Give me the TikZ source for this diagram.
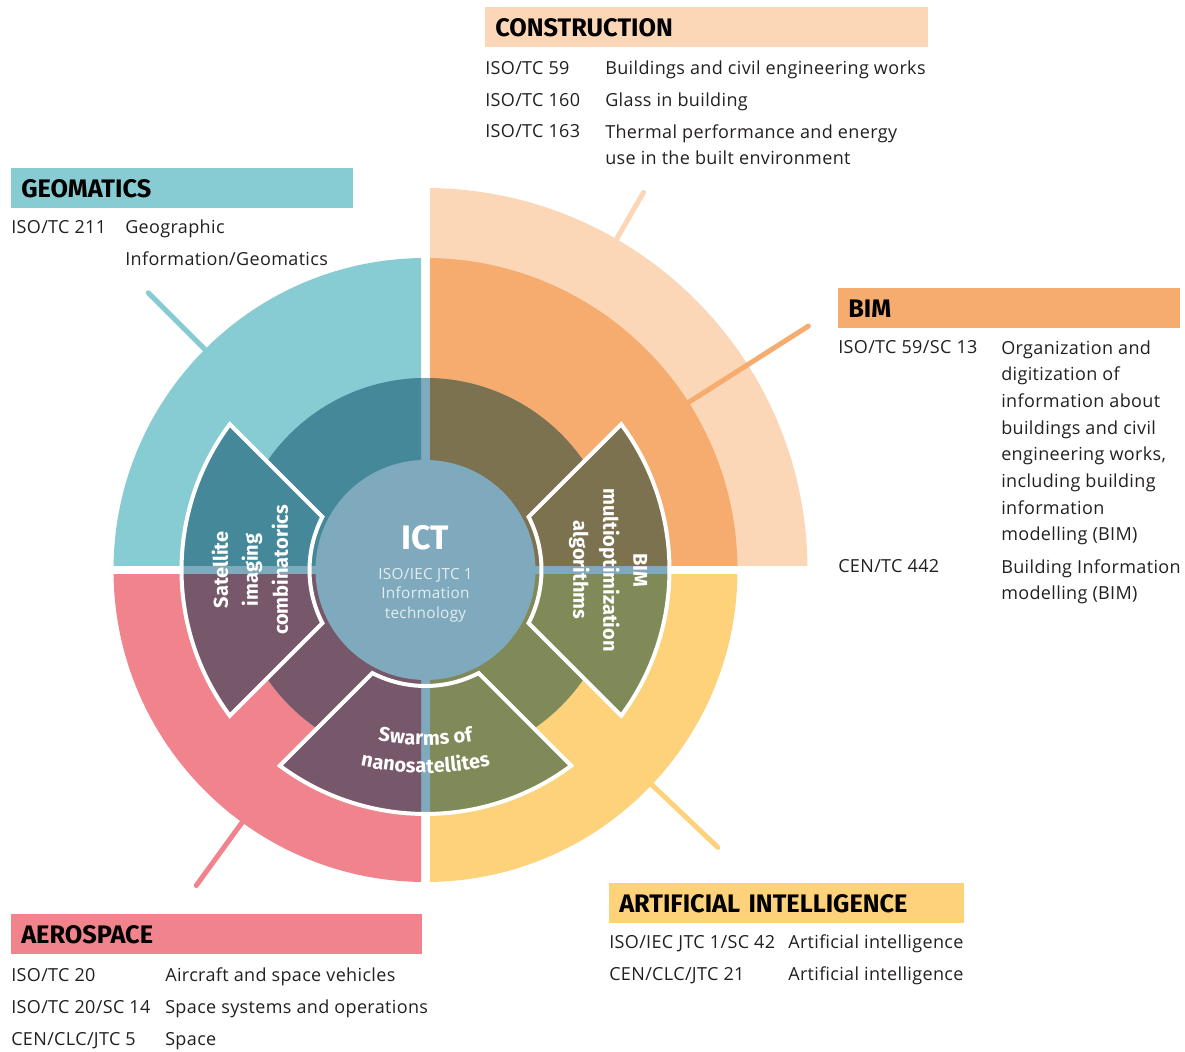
\documentclass[tikz,border=0pt]{standalone}
\usepackage{fontspec}
\setmainfont{Open Sans}[LetterSpace=2]
\newfontfamily\headfont{Fira Sans}
\usepackage{tikz}
\usetikzlibrary{decorations.text}

\definecolor{geoc}{HTML}{88CCD3}
\definecolor{conc}{HTML}{FBD7B7}
\definecolor{bimc}{HTML}{F5AC6E}
\definecolor{aeroc}{HTML}{F0838C}
\definecolor{aic}{HTML}{FDD27A}
\definecolor{ictc}{HTML}{7FA9BC}
\definecolor{ictlight}{HTML}{E4EEF2}
\definecolor{geod}{HTML}{44889A}
\definecolor{bimd}{HTML}{7D7250}
\definecolor{aerod}{HTML}{77576A}
\definecolor{aid}{HTML}{7F8A58}
\definecolor{inkc}{HTML}{231F20}

\tikzset{
  headbox/.style={anchor=north west, inner xsep=7.5pt, inner ysep=0pt, minimum height=30pt,
    align=left, text=black, font=\headfont\bfseries\fontsize{19}{20}\selectfont},
  row/.style={anchor=base west, inner sep=0pt, align=left, text=inkc,
    font=\fontsize{13.5}{20}\selectfont},
  pointer/.style={line width=3.75pt, line cap=round},
  wedgeline/.style={draw=white, line width=3pt},
  wedgetxt/.style={text=white, align=center, inner sep=0pt,
    font=\headfont\bfseries\fontsize{15}{22.5}\selectfont}
}

% the four dark quarters, a cross of ictc left between them
\newcommand{\darkquads}[1]{%
  \foreach \sx/\sy/\col in {-1/1/geod,1/1/bimd,-1/-1/aerod,1/-1/aid}{
    \begin{scope}
      \clip (\sx*4.5,\sy*4.5) rectangle (\sx*400,\sy*400);
      \fill[\col] (0,0) circle (#1);
    \end{scope}
  }}

\begin{document}
\begin{tikzpicture}[x=0.75pt, y=0.75pt]
\useasboundingbox (0,0) rectangle (1185,1052);

\begin{scope}[shift={(425.5,482)}]
  % outer rings
  \begin{scope}
    \clip (4.5,4.5) rectangle (400,400);
    \fill[conc] (0,0) circle (382);
  \end{scope}
  \foreach \sx/\sy/\col in {-1/1/geoc,1/1/bimc,-1/-1/aeroc,1/-1/aic}{
    \begin{scope}
      \clip (\sx*4.5,\sy*4.5) rectangle (\sx*400,\sy*400);
      \fill[\col] (0,0) circle (312);
    \end{scope}
  }

  % pointers
  \coordinate (geoA) at (135:312);  \coordinate (geoB) at (135:392);
  \coordinate (conA) at (60:382);   \coordinate (conB) at (60:436);
  \coordinate (bimA) at (32.5:312); \coordinate (bimB) at (32.5:454);
  \coordinate (aeroA) at (234:312); \coordinate (aeroB) at (234:390);
  \coordinate (aiA) at (-43.5:312); \coordinate (aiB) at (-43.5:403);
  \draw[pointer, geoc] (geoA) -- (geoB);
  \draw[pointer, conc] (conA) -- (conB);
  \draw[pointer, bimc] (bimA) -- (bimB);
  \draw[pointer, aeroc] (aeroA) -- (aeroB);
  \draw[pointer, aic] (aiA) -- (aiB);

  % inner ring
  \fill[ictc] (0,0) circle (192);
  \darkquads{192}

  % wedges
  \foreach \w in {180,270,0}{
    \begin{scope}
      \clip (\w-27.25:116) -- (\w-36.67:244) arc[start angle=\w-36.67, end angle=\w+36.67, radius=244]
        -- (\w+27.25:116) arc[start angle=\w+27.25, end angle=\w-27.25, radius=116] -- cycle;
      \fill[ictc] (0,0) circle (250);
      \darkquads{250}
    \end{scope}
    \draw[wedgeline] (\w-27.25:116) -- (\w-36.67:244) arc[start angle=\w-36.67, end angle=\w+36.67, radius=244]
      -- (\w+27.25:116) arc[start angle=\w+27.25, end angle=\w-27.25, radius=116] -- cycle;
  }

  % centre
  \node[circle, fill=ictc, minimum size=165pt, inner sep=0pt] (ict) at (0,0) {};
  \node[text=white, inner sep=0pt, font=\headfont\bfseries\fontsize{25.5}{26}\selectfont] (icttitle) at (0,32) {ICT};
  \node[text=ictlight, align=center, inner sep=0pt, font=\fontsize{11.5}{14.6}\selectfont] (ictsub) at (0,-25)
    {ISO/IEC JTC 1\\Information\\technology};

  \node[wedgetxt, rotate=90] (satx) at (-175.5,0) {Satellite\\imaging\\combinatorics};
  \node[wedgetxt, rotate=-90] (bimx) at (182.5,0) {BIM\\multioptimization\\algorithms};
  \path[decorate, decoration={text along path, text align=center,
    text={|\color{white}\headfont\bfseries\fontsize{15}{18}\selectfont|Swarms of}}]
    ([shift={(0,100)}]235:275) arc[start angle=235, end angle=305, radius=275];
  \path[decorate, decoration={text along path, text align=center,
    text={|\color{white}\headfont\bfseries\fontsize{15}{18}\selectfont|nanosatellites}}]
    ([shift={(0,100)}]235:303) arc[start angle=235, end angle=305, radius=303];
\end{scope}

% construction
\node[headbox, fill=conc, text width=317.25pt] (conhead) at (485,1045) {CONSTRUCTION};
\node[row] (con1) at (485,977) {ISO/TC 59};
\node[row] (con1t) at (605,977) {Buildings and civil engineering works};
\node[row] (con2) at (485,945) {ISO/TC 160};
\node[row] (con2t) at (605,945) {Glass in building};
\node[row] (con3) at (485,914) {ISO/TC 163};
\node[row] (con3t) at (605,887.3) {Thermal performance and energy\\use in the built environment};

% geomatics
\node[headbox, fill=geoc, text width=241.5pt] (geohead) at (11,884) {GEOMATICS};
\node[row] (geo1) at (11,818) {ISO/TC 211};
\node[row] (geo1t) at (125,786) {Geographic\\[4pt]Information/Geomatics};

% bim
\node[headbox, fill=bimc, text width=241.5pt] (bimhead) at (838,764) {BIM};
\node[row] (bim1) at (838,698) {ISO/TC 59/SC 13};
\node[row] (bim1t) at (1001,511.3) {Organization and\\digitization of\\information about\\buildings and civil\\engineering works,\\including building\\information\\modelling (BIM)};
\node[row] (bim2) at (838,479) {CEN/TC 442};
\node[row] (bim2t) at (1001,452.3) {Building Information\\modelling (BIM)};

% artificial intelligence
\node[headbox, fill=aic, text width=251.25pt] (aihead) at (609,169) {ARTIFICIAL INTELLIGENCE};
\node[row] (ai1) at (609,103) {ISO/IEC JTC 1/SC 42};
\node[row] (ai1t) at (788,103) {Artificial intelligence};
\node[row] (ai2) at (609,71) {CEN/CLC/JTC 21};
\node[row] (ai2t) at (788,71) {Artificial intelligence};

% aerospace
\node[headbox, fill=aeroc, text width=293.25pt] (aerohead) at (11,138) {AEROSPACE};
\node[row] (aero1) at (11,70) {ISO/TC 20};
\node[row] (aero1t) at (165,70) {Aircraft and space vehicles};
\node[row] (aero2) at (11,38) {ISO/TC 20/SC 14};
\node[row] (aero2t) at (165,38) {Space systems and operations};
\node[row] (aero3) at (11,6) {CEN/CLC/JTC 5};
\node[row] (aero3t) at (165,6) {Space};
\end{tikzpicture}
\end{document}
